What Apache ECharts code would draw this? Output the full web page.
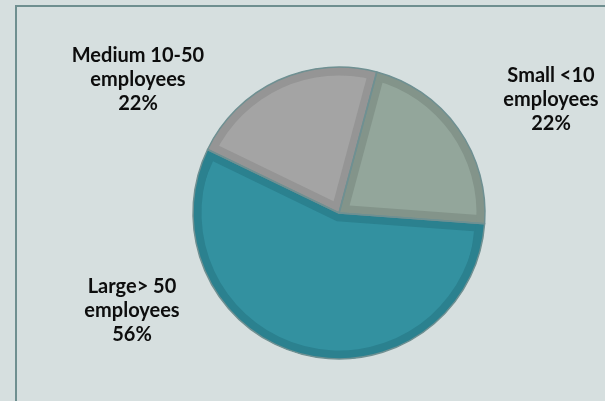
<!DOCTYPE html>
<html>
<head>
<meta charset="utf-8">
<script src="https://cdn.jsdelivr.net/npm/echarts@6/dist/echarts.min.js"></script>
<style>
  html, body { margin: 0; padding: 0; background: #d6dfdf; }
  #chart { width: 605px; height: 401px; }
</style>
</head>
<body>
<div id="chart"></div>
<script>
// Company size breakdown (share of employees by company size)
const categories = ['Small <10\nemployees', 'Large> 50\nemployees', 'Medium 10-50\nemployees'];
const shares = [22, 56, 22];

// Fill colours: light face and darker rim for each slice
const faceColors = ['#93a69b', '#3391a0', '#a4a4a4'];
const rimColors = ['#83948a', '#2b818f', '#959595'];

// Label anchor points, per slice
const labelAnchors = [
  { x: 551, y: 100 },
  { x: 132, y: 311 },
  { x: 138, y: 80 }
];

// Face inset per slice: offset toward the slice's middle, and face radius
const faceOffset = [13, 8.5, 13];
const faceRadius = [133, 137.5, 133];

const CENTER = [339, 213];
const R = 146;
const RIM = 8.5;
const START = 75;
const CLEAR = 'rgba(0,0,0,0)';

const chart = echarts.init(document.getElementById('chart'), null, { renderer: 'canvas' });

const base = {
  type: 'pie',
  center: CENTER,
  startAngle: START,
  clockwise: true,
  silent: true,
  animation: false,
  label: { show: false },
  labelLine: { show: false },
  emphasis: { disabled: true }
};

// Darker base disc: every slice in its rim colour
const rimSeries = Object.assign({}, base, {
  radius: [0, R],
  z: 1,
  data: categories.map((name, i) => ({ name, value: shares[i], itemStyle: { color: rimColors[i] } }))
});

// One lighter face per slice, pulled in from the slice edges
const faceSeries = categories.map((_, k) => Object.assign({}, base, {
  radius: [0, faceRadius[k]],
  z: 2,
  selectedMode: 'single',
  selectedOffset: faceOffset[k],
  data: categories.map((name, i) => ({
    name, value: shares[i],
    selected: i === k,
    itemStyle: { color: i === k ? faceColors[k] : CLEAR, borderWidth: 0 }
  }))
}));

// Rim band along the outer arc
const ringSeries = Object.assign({}, base, {
  radius: [R - RIM, R],
  z: 3,
  data: categories.map((name, i) => ({ name, value: shares[i], itemStyle: { color: rimColors[i] } }))
});

// Outline and labels
const outlineSeries = Object.assign({}, base, {
  radius: [0, R],
  z: 4,
  data: categories.map((name, i) => ({ name, value: shares[i] })),
  itemStyle: { color: CLEAR, borderColor: '#6f9092', borderWidth: 1.5 },
  label: {
    show: true,
    position: 'outside',
    formatter: p => p.name + '\n' + p.value + '%',
    color: '#0d0d0d',
    fontFamily: 'Lato',
    fontWeight: 'bold',
    fontSize: 20,
    lineHeight: 24,
    align: 'center',
    overflow: 'none'
  },
  labelLine: { show: false },
  labelLayout: params => {
    const a = labelAnchors[params.dataIndex];
    return { x: a.x, y: a.y, align: 'center', verticalAlign: 'middle' };
  }
});

chart.setOption({
  backgroundColor: '#d6dfdf',
  animation: false,
  graphic: [{
    type: 'rect',
    shape: { x: 16, y: 6, width: 700, height: 500 },
    style: { fill: 'none', stroke: '#6f8f90', lineWidth: 2 },
    silent: true
  }],
  series: [rimSeries].concat(faceSeries, [ringSeries, outlineSeries])
});
</script>
</body>
</html>
